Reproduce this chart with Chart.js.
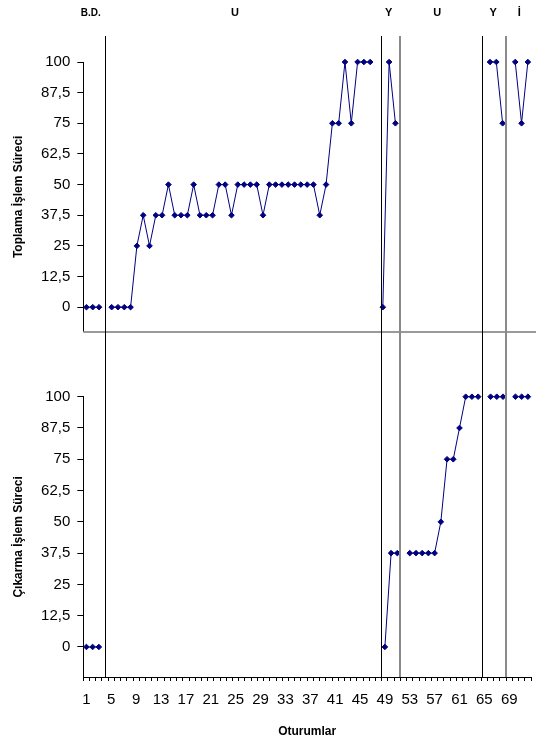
<!DOCTYPE html>
<html>
<head>
<meta charset="utf-8">
<script src="https://cdn.jsdelivr.net/npm/chart.js@4.4.0/dist/chart.umd.min.js"></script>
<style>
  body { margin: 0; background: #fff; }
  #wrap { position: relative; width: 536px; height: 742px; }
  #topChart { position: absolute; left: 0; top: 0; }
  #bottomChart { position: absolute; left: 0; top: 360px; }
</style>
</head>
<body>
<div id="wrap">
  <canvas id="topChart" width="536" height="360"></canvas>
  <canvas id="bottomChart" width="536" height="382"></canvas>
</div>
<script>
// top graph has 71 sessions, bottom graph 72
const toplamaSessions = [
  1, 2, 3, 4, 5, 6, 7, 8, 9, 10, 11, 12, 13, 14, 15, 16, 17, 18, 19, 20,
  21, 22, 23, 24, 25, 26, 27, 28, 29, 30, 31, 32, 33, 34, 35, 36, 37, 38, 39, 40,
  41, 42, 43, 44, 45, 46, 47, 48, 49, 50, 51, 52, 53, 54, 55, 56, 57, 58, 59, 60,
  61, 62, 63, 64, 65, 66, 67, 68, 69, 70, 71
];
const cikarmaSessions = [
  1, 2, 3, 4, 5, 6, 7, 8, 9, 10, 11, 12, 13, 14, 15, 16, 17, 18, 19, 20,
  21, 22, 23, 24, 25, 26, 27, 28, 29, 30, 31, 32, 33, 34, 35, 36, 37, 38, 39, 40,
  41, 42, 43, 44, 45, 46, 47, 48, 49, 50, 51, 52, 53, 54, 55, 56, 57, 58, 59, 60,
  61, 62, 63, 64, 65, 66, 67, 68, 69, 70, 71, 72
];

const toplamaValues = [
  0, 0, 0, null, 0, 0, 0, 0, 25, 37.5,
  25, 37.5, 37.5, 50, 37.5, 37.5, 37.5, 50, 37.5, 37.5,
  37.5, 50, 50, 37.5, 50, 50, 50, 50, 37.5, 50,
  50, 50, 50, 50, 50, 50, 50, 37.5, 50, 75,
  75, 100, 75, 100, 100, 100, null, 0, 100, 75,
  null, null, null, null, null, null, null, null, null, null,
  null, null, null, null, 100, 100, 75, null, 100, 75,
  100
];
const cikarmaValues = [
  0, 0, 0, null, null, null, null, null, null, null,
  null, null, null, null, null, null, null, null, null, null,
  null, null, null, null, null, null, null, null, null, null,
  null, null, null, null, null, null, null, null, null, null,
  null, null, null, null, null, null, null, null, 0, 37.5,
  37.5, null, 37.5, 37.5, 37.5, 37.5, 37.5, 50, 75, 75,
  87.5, 100, 100, 100, null, 100, 100, 100, null, 100,
  100, 100
];

const yTicks = [0, 12.5, 25, 37.5, 50, 62.5, 75, 87.5, 100];
const xTickLabels = [1, 5, 9, 13, 17, 21, 25, 29, 33, 37, 41, 45, 49, 53, 57, 61, 65, 69];

// phase change lines and phase names, in bottom-graph session units
const phaseLines = [4, 48.3, 51.4, 64.7, 68.5];
const phaseNames = ['B.D.', 'U', 'Y', 'U', 'Y', 'İ'];
const phaseNamePos = [1.7, 24.9, 49.6, 57.4, 66.4, 70.6];

const phaseLineColors = ['#000', '#000', '#8a8a8a', '#000', '#8a8a8a'];
const phaseLineWidths = [1, 1, 2, 1, 2];
const phaseNameFonts = ['bold 10px', 'bold 11px', 'bold 11px', 'bold 11px', 'bold 11px', 'bold 11px'];

const FONT = '"Liberation Sans", Arial, sans-serif';
Chart.defaults.font.family = FONT;
Chart.defaults.color = '#000';

function phasePlugin(isTop) {
  return {
    id: 'phases',
    afterDatasetsDraw(chart) {
      const ctx = chart.ctx;
      const xp = chart.scales.xp;
      const area = chart.chartArea;
      ctx.save();
      if (isTop) {
        // top graph horizontal axis runs to the edge
        ctx.strokeStyle = '#9a9a9a';
        ctx.lineWidth = 2;
        ctx.beginPath();
        ctx.moveTo(area.left, Math.round(area.bottom));
        ctx.lineTo(chart.width, Math.round(area.bottom));
        ctx.stroke();
      }
      phaseLines.forEach((s, i) => {
        let x = Math.round(xp.getPixelForValue(s));
        if (phaseLineWidths[i] === 1) x += 0.5;
        ctx.strokeStyle = phaseLineColors[i];
        ctx.lineWidth = phaseLineWidths[i];
        ctx.beginPath();
        ctx.moveTo(x, isTop ? 36 : 0);
        ctx.lineTo(x, isTop ? chart.height : area.bottom);
        ctx.stroke();
      });
      if (isTop) {
        ctx.fillStyle = '#000';
        ctx.textAlign = 'center';
        ctx.textBaseline = 'middle';
        phaseNames.forEach((name, i) => {
          ctx.font = phaseNameFonts[i] + ' ' + FONT;
          ctx.fillText(name, xp.getPixelForValue(phaseNamePos[i]), 13);
        });
      }
      ctx.restore();
    }
  };
}

function yScale(min, title) {
  return {
    min: min,
    max: 100,
    afterBuildTicks: (s) => { s.ticks = yTicks.map(v => ({ value: v })); },
    afterFit: (s) => { s.width = 83.3; s.paddingTop = 0; s.paddingBottom = 0; },
    grid: { drawOnChartArea: false, tickLength: 6, color: '#000' },
    border: { color: '#000' },
    ticks: {
      font: { size: 15 },
      color: '#000',
      padding: 7,
      callback: (v) => String(v).replace('.', ',')
    },
    title: {
      display: true,
      text: title,
      color: '#000',
      font: { size: 12, weight: 'bold' },
      padding: { top: 11, bottom: 0 }
    }
  };
}

const lineStyle = {
  borderColor: '#000080',
  borderWidth: 1,
  backgroundColor: '#000080',
  pointStyle: 'rectRot',
  pointRadius: 2.8,
  pointBorderWidth: 1,
  pointBorderColor: '#000080',
  pointBackgroundColor: '#000080',
  spanGaps: false,
  clip: false,
  tension: 0
};

new Chart(document.getElementById('topChart'), {
  type: 'line',
  data: {
    labels: toplamaSessions,
    datasets: [Object.assign({ label: 'Toplama', data: toplamaValues }, lineStyle)]
  },
  options: {
    responsive: false,
    animation: false,
    devicePixelRatio: 1,
    layout: { padding: { top: 62, right: 4, bottom: 28.3, left: 0 } },
    plugins: { legend: { display: false }, tooltip: { enabled: false } },
    scales: {
      x: { type: 'category', offset: true, display: false },
      xp: { type: 'linear', axis: 'x', min: 0.5, max: 72.5, display: false },
      y: yScale(-10, 'Toplama İşlem Süreci')
    }
  },
  plugins: [phasePlugin(true)]
});

new Chart(document.getElementById('bottomChart'), {
  type: 'line',
  data: {
    labels: cikarmaSessions,
    datasets: [Object.assign({ label: 'Çıkarma', data: cikarmaValues }, lineStyle)]
  },
  options: {
    responsive: false,
    animation: false,
    devicePixelRatio: 1,
    layout: { padding: { top: 36.7, right: 4, bottom: 0, left: 0 } },
    plugins: { legend: { display: false }, tooltip: { enabled: false } },
    scales: {
      x: {
        type: 'category',
        offset: true,
        afterFit: (s) => { s.height = 65; s.paddingLeft = 0; s.paddingRight = 0; },
        grid: { offset: true, drawOnChartArea: false, tickLength: 4, color: '#000' },
        border: { color: '#000' },
        ticks: {
          autoSkip: false,
          maxRotation: 0,
          font: { size: 15 },
          color: '#000',
          padding: 10,
          callback: function (v) {
            const l = this.getLabelForValue(v);
            return xTickLabels.includes(Number(l)) ? String(l) : '';
          }
        },
        title: {
          display: true,
          text: 'Oturumlar',
          color: '#000',
          font: { size: 12, weight: 'bold' },
          padding: { top: 0, bottom: 3 }
        }
      },
      xp: { type: 'linear', axis: 'x', min: 0.5, max: 72.5, display: false },
      y: yScale(-12, 'Çıkarma İşlem Süreci')
    }
  },
  plugins: [phasePlugin(false)]
});
</script>
</body>
</html>
